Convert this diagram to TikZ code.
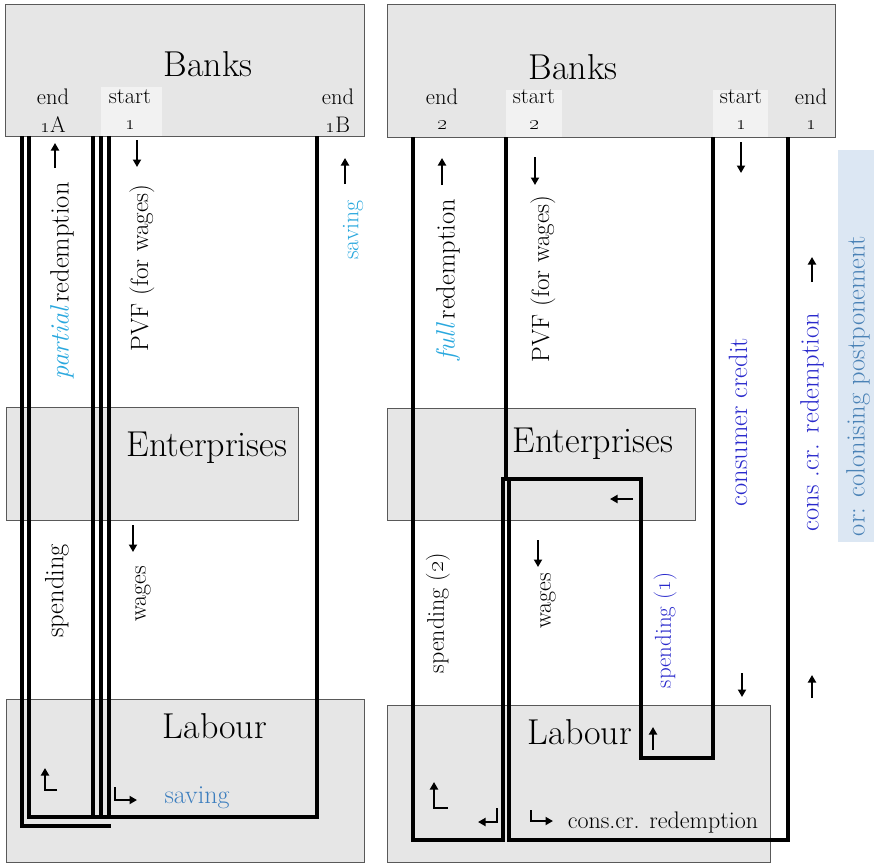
\documentclass[tikz,border=0pt]{standalone}
\usetikzlibrary{arrows.meta}
\definecolor{boxgray}{HTML}{E6E6E6}
\definecolor{tabgray}{HTML}{F2F2F2}
\definecolor{skyblue}{HTML}{2AA8DE}
\definecolor{steelblue}{HTML}{3C7EBE}
\definecolor{inkblue}{HTML}{2A2ACC}
\definecolor{notefill}{HTML}{DCE7F3}
\definecolor{noteink}{HTML}{4A82B6}

\begin{document}
\begin{tikzpicture}[x=1pt, y=-1pt,
  box/.style={draw=black!65, line width=1pt, fill=boxgray},
  flow/.style={line width=3.2pt, line join=miter},
  dirarr/.style={line width=1.9pt, -{Triangle[length=7.5pt,width=8pt]}},
  head/.style={font=\fontsize{36}{40}\selectfont},
  tag/.style={font=\fontsize{22.5}{24}\selectfont, inner sep=0pt},
  side/.style={rotate=90, font=\fontsize{26.5}{28}\selectfont},
  small/.style={rotate=90, font=\fontsize{24}{26}\selectfont},
]
  \useasboundingbox (0,0) rectangle (874,863);

  % sector boxes
  \draw[box] (5,4) rectangle (364,136);
  \draw[box] (6,407) rectangle (298,520);
  \draw[box] (6,699) rectangle (364,862);
  \draw[box] (387,4) rectangle (835,137);
  \draw[box] (387,408) rectangle (695,520);
  \draw[box] (387,705) rectangle (770,862);
  \fill[tabgray] (101,87) rectangle (162,135.5);
  \fill[tabgray] (506,90) rectangle (562,136.5);
  \fill[tabgray] (713,90) rectangle (768,136.5);
  \fill[notefill] (838,150) rectangle (874,542);

  % left circuit
  \draw[flow] (22,136) -- (22,826) -- (111,826);
  \draw[flow] (29,136) -- (29,817) -- (317,817) -- (317,136);
  \foreach \x in {93,101,109} \draw[flow] (\x,136) -- (\x,817);

  % right circuits
  \draw[flow] (506,137) -- (506,479) -- (503,479) -- (503,840) -- (413,840) -- (413,137);
  \draw[flow] (713,137) -- (713,758) -- (641,758) -- (641,479) -- (509,479)
    -- (509,840) -- (788,840) -- (788,137);

  % headings
  \node[head] (banksL) at (208,64) {Banks};
  \node[head] (entL) at (207,448) {Enterprises};
  \node[head] (labL) at (215,726) {Labour};
  \node[head] (banksR) at (573,67) {Banks};
  \node[head] (entR) at (593,444) {Enterprises};
  \node[head] (labR) at (580,732) {Labour};

  % start / end tabs under the banks
  \foreach \name/\x/\word/\num in {end1A/53/end/\oldstylenums{1}A, start1L/130/start/\oldstylenums{1},
      end1B/338/end/\oldstylenums{1}B, end2/442/end/\oldstylenums{2}, start2/534/start/\oldstylenums{2},
      start1R/741/start/\oldstylenums{1}, end1R/811/end/\oldstylenums{1}} {
    \node[tag] (\name) at (\x,97) {\word};
    \node[tag] (\name num) at (\x,125) {\num};
  }

  % flow labels, left
  \node[side] (redL) at (62,281) {\textcolor{skyblue}{\itshape partial}\,redemption};
  \node[side, font=\fontsize{25}{27}\selectfont] (pvfL) at (142,268) {PVF (for wages)};
  \node[side, font=\fontsize{24}{26}\selectfont, text=skyblue] (saveL) at (353,230) {saving};
  \node[side] (spendL) at (57,591) {spending};
  \node[small] (wagesL) at (143,594) {wages};
  \node[font=\fontsize{26}{28}\selectfont, text=steelblue] (saveB) at (197,798) {saving};

  % flow labels, right
  \node[side] (redR) at (448,280) {\textcolor{skyblue}{\itshape full}\,redemption};
  \node[side, font=\fontsize{25}{27}\selectfont] (pvfR) at (543,279) {PVF (for wages)};
  \node[side, text=inkblue] (ccR) at (738,422) {consumer credit};
  \node[side, text=inkblue] (ccredR) at (812,422) {cons .cr. redemption};
  \node[side, text=noteink] (note) at (858,386) {or: colonising postponement};
  \node[small] (spend2) at (438,613) {spending (\oldstylenums{2})};
  \node[small] (wagesR) at (548,601) {wages};
  \node[small, font=\fontsize{23}{25}\selectfont, text=inkblue] (spend1) at (665,630) {spending (\oldstylenums{1})};
  \node[font=\fontsize{24}{26}\selectfont] (ccredB) at (663,822) {cons.cr. redemption};

  % direction marks
  \draw[dirarr] (55,168) -- (55,143);
  \draw[dirarr] (137,140) -- (137,167);
  \draw[dirarr] (345,184) -- (345,158);
  \draw[dirarr] (133,525) -- (133,552);
  \draw[dirarr] (57,790) -- (45,790) -- (45,768);
  \draw[dirarr] (115,787) -- (115,800) -- (137,800);
  \draw[dirarr] (442,185) -- (442,158);
  \draw[dirarr] (535,157) -- (535,185);
  \draw[dirarr] (741,142) -- (741,173);
  \draw[dirarr] (812,282) -- (812,257);
  \draw[dirarr] (633,499) -- (610,499);
  \draw[dirarr] (538,540) -- (538,567);
  \draw[dirarr] (742,673) -- (742,697);
  \draw[dirarr] (812,698) -- (812,675);
  \draw[dirarr] (653,750) -- (653,727);
  \draw[dirarr] (448,808) -- (434,808) -- (434,782);
  \draw[dirarr] (497,808) -- (497,822) -- (478,822);
  \draw[dirarr] (531,810) -- (531,821) -- (553,821);
\end{tikzpicture}
\end{document}
